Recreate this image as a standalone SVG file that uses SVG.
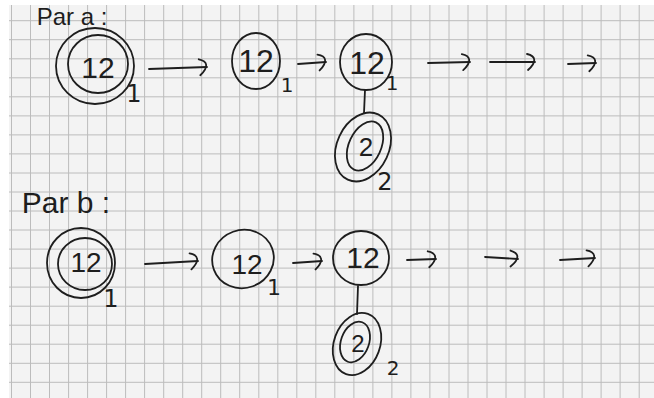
<svg xmlns="http://www.w3.org/2000/svg" width="654" height="398" viewBox="0 0 654 398">
<style>
.ink{fill:none;stroke:#1e1e1e;stroke-width:1.8;stroke-linecap:round;stroke-linejoin:round}
.t{font-family:"Liberation Sans",Arial,sans-serif;fill:#1e1e1e;text-anchor:middle}
.s{font-family:"DejaVu Sans",sans-serif;fill:#1e1e1e;text-anchor:middle}
.grid{fill:none;stroke:#bcbcbc;stroke-width:1}
</style>
<defs>
<marker id="head" markerUnits="userSpaceOnUse" markerWidth="24" markerHeight="24" viewBox="-12 -12 24 24" refX="0" refY="0" orient="auto">
<path d="M -8,-8 C 1,-6 2,0 -7,8" fill="none" stroke="#1e1e1e" stroke-width="1.8" stroke-linecap="round"/>
</marker>
</defs>
<rect width="654" height="398" fill="#ffffff"/>
<rect x="9" y="5" width="645" height="393" fill="#f3f3f3"/>
<path class="grid" d="M11.5,5V398M30.5,5V398M49.5,5V398M68.6,5V398M87.6,5V398M106.6,5V398M125.6,5V398M144.6,5V398M163.7,5V398M182.7,5V398M201.7,5V398M220.7,5V398M239.7,5V398M258.8,5V398M277.8,5V398M296.8,5V398M315.8,5V398M334.8,5V398M353.9,5V398M372.9,5V398M391.9,5V398M410.9,5V398M429.9,5V398M449,5V398M468,5V398M487,5V398M506,5V398M525,5V398M544.1,5V398M563.1,5V398M582.1,5V398M601.1,5V398M620.1,5V398M639.2,5V398M9,20.7H654M9,39.7H654M9,58.8H654M9,77.8H654M9,96.8H654M9,115.9H654M9,134.9H654M9,153.9H654M9,173H654M9,192H654M9,211H654M9,230H654M9,249.1H654M9,268.1H654M9,287.1H654M9,306.2H654M9,325.2H654M9,344.2H654M9,363.3H654M9,382.3H654"/>

<text class="t" x="72" y="25" font-size="24">Par a :</text>
<text class="t" x="66" y="213" font-size="30">Par b :</text>

<g id="connectors">
<path class="ink" d="M149,69 L207,67" marker-end="url(#head)"/>
<path class="ink" d="M298,64 L326,62" marker-end="url(#head)"/>
<path class="ink" d="M428,63 L470,62" marker-end="url(#head)"/>
<path class="ink" d="M490,62 L535,62" marker-end="url(#head)"/>
<path class="ink" d="M568,64 L596,63" marker-end="url(#head)"/>
<path class="ink" d="M365,90 L364,113"/>
<path class="ink" d="M145,264 L198,261" marker-end="url(#head)"/>
<path class="ink" d="M293,263 L322,261" marker-end="url(#head)"/>
<path class="ink" d="M407,260 L436,259" marker-end="url(#head)"/>
<path class="ink" d="M485,257 L518,259" marker-end="url(#head)"/>
<path class="ink" d="M560,260 L595,258" marker-end="url(#head)"/>
<path class="ink" d="M358,286 L357,314"/>
</g>

<g id="a1">
<ellipse class="ink" cx="95" cy="66" rx="39" ry="38"/>
<ellipse class="ink" cx="98" cy="64" rx="30" ry="29"/>
<text class="t" x="98" y="78" font-size="30">12</text>
<text class="s" x="134" y="102" font-size="24">1</text>
</g>
<g id="a2">
<ellipse class="ink" cx="256" cy="61" rx="24" ry="28"/>
<text class="t" x="256" y="72" font-size="32">12</text>
<text class="s" x="287" y="92" font-size="20">1</text>
</g>
<g id="a3">
<ellipse class="ink" cx="366" cy="62" rx="26" ry="28"/>
<text class="t" x="367" y="74" font-size="32">12</text>
<text class="s" x="392" y="90" font-size="20">1</text>
</g>
<g id="a4">
<ellipse class="ink" cx="363" cy="147" rx="26" ry="36" transform="rotate(25 363 147)"/>
<ellipse class="ink" cx="365" cy="146" rx="16" ry="26" transform="rotate(25 365 146)"/>
<text class="t" x="366" y="156" font-size="26">2</text>
<text class="s" x="385" y="190" font-size="24">2</text>
</g>
<g id="b1">
<ellipse class="ink" cx="81" cy="263" rx="34" ry="35"/>
<ellipse class="ink" cx="85" cy="264" rx="27" ry="26"/>
<text class="t" x="86" y="272" font-size="28">12</text>
<text class="s" x="111" y="307" font-size="24">1</text>
</g>
<g id="b2">
<ellipse class="ink" cx="243" cy="259" rx="31" ry="29" transform="rotate(-20 243 259)"/>
<text class="t" x="247" y="274" font-size="28">12</text>
<text class="s" x="274" y="295" font-size="22">1</text>
</g>
<g id="b3">
<ellipse class="ink" cx="361" cy="258" rx="28" ry="27"/>
<text class="t" x="363" y="268" font-size="30">12</text>
</g>
<g id="b4">
<ellipse class="ink" cx="357" cy="344" rx="23" ry="32" transform="rotate(20 357 344)"/>
<ellipse class="ink" cx="355" cy="342" rx="14" ry="21" transform="rotate(20 355 342)"/>
<text class="t" x="358" y="352" font-size="24">2</text>
<text class="s" x="393" y="375" font-size="20">2</text>
</g>
</svg>
